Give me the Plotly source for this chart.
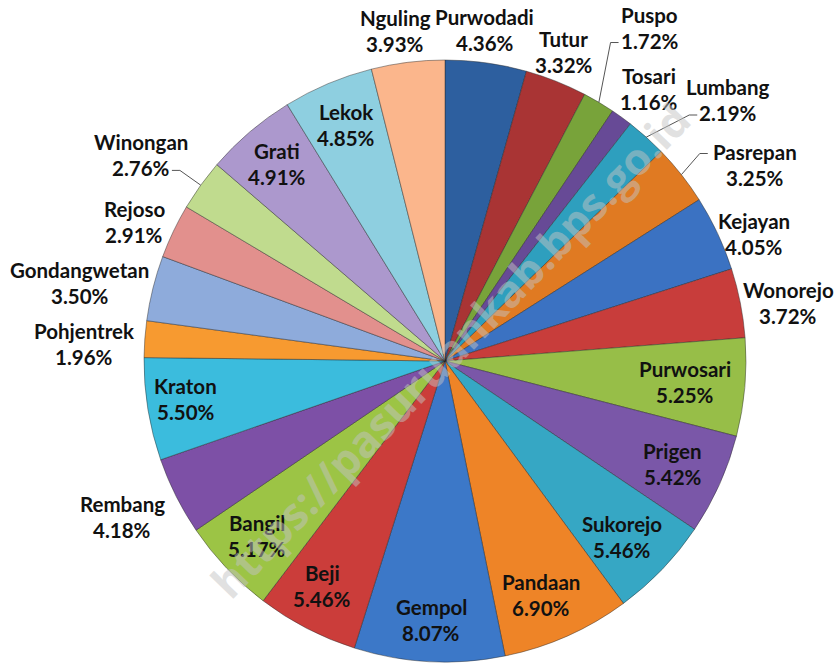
import math
import plotly.graph_objects as go

# ---- data ----
districts = ["Purwodadi", "Tutur", "Puspo", "Tosari", "Lumbang", "Pasrepan", "Kejayan",
             "Wonorejo", "Purwosari", "Prigen", "Sukorejo", "Pandaan", "Gempol", "Beji",
             "Bangil", "Rembang", "Kraton", "Pohjentrek", "Gondangwetan", "Rejoso",
             "Winongan", "Grati", "Lekok", "Nguling"]
shares = [4.36, 3.32, 1.72, 1.16, 2.19, 3.25, 4.05, 3.72, 5.25, 5.42, 5.46, 6.90, 8.07,
          5.46, 5.17, 4.18, 5.50, 1.96, 3.50, 2.91, 2.76, 4.91, 4.85, 3.93]

# ---- styles ----
colors = ["#2D5F9F", "#A93434", "#78A33A", "#674A96", "#2E9FBE", "#E07A22", "#3B72C2",
          "#C83D3B", "#97BE48", "#7A57A8", "#36A7C4", "#EE8427", "#3C78C8", "#CB3D3A",
          "#9CC445", "#7D50A6", "#3BBCDD", "#F79A30", "#8EABDB", "#E2908D", "#C0DB8E",
          "#AC98CD", "#8ECFE0", "#FBB68C"]
# label placement: radial factor (x pie radius) and angular offset (deg)
label_r = [1.107, 1.10, 1.30, 1.13, 1.28, 1.22, 1.11, 1.156, 0.80, 0.83, 0.83, 0.84, 0.86,
           0.85, 0.853, 1.19, 0.87, 1.20, 1.24, 1.13, 1.22, 0.86, 0.85, 1.11]
label_dth = [-1.0, -0.7, 0.8, 1.0, 5.4, 5.9, 2.75, 1.5, 0.0, 0.0, 1.0, 1.6, 0.0, 1.3, 0.6,
             0.9, 1.0, -1.4, -2.0, -1.5, -1.7, 0.0, 0.0, -1.5]
leaders = {"Puspo": "pct", "Lumbang": "pct", "Pasrepan": "name", "Winongan": "pct"}

W, H = 840, 663
OFF = 0  # page body margin removed by post_script below
CX, CY, R = 445, 361, 301
FS = 20.5
LINE = 13
FONT = "Lato"


def px2paper(x, y):
    return (x - OFF) / W, 1 - (y - OFF) / H


dx0, dy1 = px2paper(CX - R, CY + R)
dx1, dy0 = px2paper(CX + R, CY - R)

fig = go.Figure(go.Pie(
    labels=districts, values=shares, sort=False, direction="clockwise", rotation=0,
    marker=dict(colors=colors, line=dict(color="rgba(40,40,40,0.45)", width=1)),
    textinfo="none", hoverinfo="label+percent", showlegend=False,
    domain=dict(x=[dx0, dx1], y=[dy1, dy0]),
))

annotations = []
shapes = []
total = sum(shares)
cum = 0.0
for name, v, rf, dth in zip(districts, shares, label_r, label_dth):
    mid = (cum + v / 2) / total * 360.0
    cum += v
    th = math.radians(mid + dth)
    lx = CX + rf * R * math.sin(th)
    ly = CY - rf * R * math.cos(th)
    pct = f"{v:.2f}%"
    for txt, dy in ((name, -LINE), (pct, LINE)):
        xp, yp = px2paper(lx, ly + dy)
        annotations.append(dict(x=xp, y=yp, xref="paper", yref="paper", text=f"<b>{txt}</b>",
                                showarrow=False, xanchor="center", yanchor="middle",
                                font=dict(family=FONT, size=FS, color="#111111")))
    if name in leaders:
        tm = math.radians(mid)
        ex = CX + R * math.sin(tm)
        ey = CY - R * math.cos(tm)
        txt = pct if leaders[name] == "pct" else name
        ty = ly + (LINE + 2 if leaders[name] == "pct" else -LINE + 2)
        hw = len(txt) * 0.53 * FS / 2
        side = 1 if math.sin(tm) > 0 else -1
        endx = lx - side * (hw + 4)
        elbx = endx - side * 8
        pts = [px2paper(ex, ey), px2paper(elbx, ty), px2paper(endx, ty)]
        path = "M {} {} L {} {} L {} {}".format(*[c for p in pts for c in p])
        shapes.append(dict(type="path", path=path, xref="paper", yref="paper",
                           line=dict(color="#555555", width=1)))

# watermark
wx, wy = px2paper(450, 350)
annotations.append(dict(x=wx, y=wy, xref="paper", yref="paper",
                        text="<b>https://pasuruankab.bps.go.id</b>", showarrow=False,
                        textangle=-46, xanchor="center", yanchor="middle",
                        font=dict(family="Open Sans", size=44, color="rgba(195,195,195,0.5)")))

fig.update_layout(width=W, height=H, margin=dict(l=0, r=0, t=0, b=0),
                  paper_bgcolor="white", plot_bgcolor="white",
                  annotations=annotations, shapes=shapes)
fig.write_html("out.html", config={"displayModeBar": False},
               post_script="document.body.style.margin='0';document.body.style.overflow='hidden';")
